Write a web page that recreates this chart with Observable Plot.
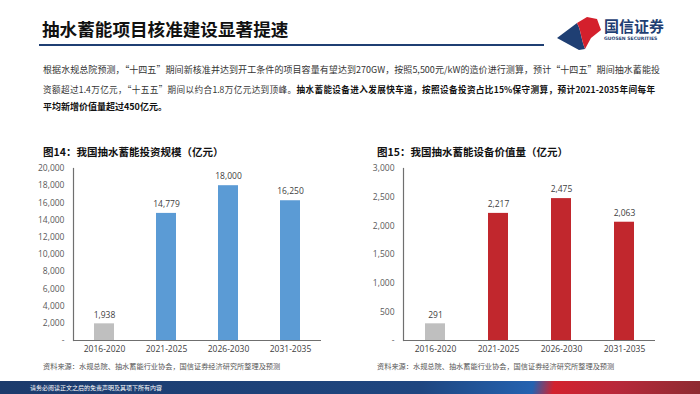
<!DOCTYPE html>
<html><head><meta charset="utf-8">
<script src="https://cdn.jsdelivr.net/npm/d3@7"></script>
<script src="https://cdn.jsdelivr.net/npm/@observablehq/plot@0.6"></script>
<style>
html,body{margin:0;padding:0;background:#fff;}
#page{position:relative;width:700px;height:394px;overflow:hidden;background:#fff;font-family:"Noto Sans CJK SC","Noto Sans",sans-serif;}
.abs{position:absolute;}
#title{left:42px;top:17px;font-size:17.6px;font-weight:bold;color:#111;line-height:24px;white-space:nowrap;}
#rule{left:39px;top:44px;width:505px;height:2px;background:#1f3f73;}
.para{position:absolute;left:43px;width:617px;font-size:9px;color:#333;line-height:12px;white-space:nowrap;}
.just{text-align:justify;text-align-last:justify;white-space:normal;}
.ctitle{font-size:10.5px;font-weight:bold;color:#111;line-height:14px;white-space:nowrap;}
.src{font-size:7.2px;color:#555;line-height:10px;white-space:nowrap;}
#footer{left:0;top:381px;width:700px;height:13px;background:linear-gradient(100deg,#1c3b6c 0%,#1f4680 60%,#2462b0 76%,#d3222e 79%,#b8283a 88%,#8d2b31 100%);}
#ftext{left:30px;top:382px;font-size:6px;color:#fff;line-height:11px;white-space:nowrap;}
</style></head>
<body><div id="page">
<div id="title" class="abs">抽水蓄能项目核准建设显著提速</div>
<div id="rule" class="abs"></div>
<svg class="abs" style="left:556px;top:15px" width="46" height="36" viewBox="0 0 46 36">
<path d="M1 23 L21 8 C25 15 25 24 29 34 L23 35 Z" fill="#1f3f73"/>
<path d="M21 8 L31 2 L41 4 L45 15 L35 23 L29 34 C25 24 25 15 21 8 Z" fill="#d4202c"/>
</svg>
<div class="abs" style="left:604px;top:17px;font-size:15px;color:#1f3f73;line-height:18px;font-weight:bold;white-space:nowrap;">国信证券</div>
<div class="abs" style="left:604px;top:36px;font-size:4.6px;color:#1f3f73;line-height:6px;font-weight:bold;font-family:'DejaVu Sans',sans-serif;white-space:nowrap;">GUOSEN SECURITIES</div>

<div class="para just" style="top:64px;">根据水规总院预测，“十四五”期间新核准并达到开工条件的项目容量有望达到270GW，按照5,500元/kW的造价进行测算，预计“十四五”期间抽水蓄能投</div>
<div class="para just" style="top:83px;width:612px;font-size:8.6px;">资额超过1.4万亿元，“十五五”期间以约合1.8万亿元达到顶峰。<b style="color:#111">抽水蓄能设备进入发展快车道，按照设备投资占比15%保守测算，预计2021-2035年间每年</b></div>
<div class="para" style="top:101px;"><b style="color:#111">平均新增价值量超过450亿元。</b></div>

<div class="abs ctitle" style="left:43px;top:145px;">图14：我国抽水蓄能投资规模（亿元）</div>
<div class="abs ctitle" style="left:377px;top:145px;">图15：我国抽水蓄能设备价值量（亿元）</div>
<div id="c1" class="abs" style="left:30px;top:158px;"></div>
<div id="c2" class="abs" style="left:360px;top:158px;"></div>
<div class="abs src" style="left:43px;top:361px;">资料来源：水规总院、抽水蓄能行业协会，国信证券经济研究所整理及预测</div>
<div class="abs src" style="left:377px;top:361px;">资料来源：水规总院、抽水蓄能行业协会，国信证券经济研究所整理及预测</div>
<div id="footer" class="abs"></div>
<div id="ftext" class="abs">请务必阅读正文之后的免责声明及其项下所有内容</div>
</div>
<script>
const periods = ["2016-2020", "2021-2025", "2026-2030", "2031-2035"];
const investment = [1938, 14779, 18000, 16250];
const equipment = [291, 2217, 2475, 2063];
const investTicks = [0, 2000, 4000, 6000, 8000, 10000, 12000, 14000, 16000, 18000, 20000];
const equipTicks = [0, 500, 1000, 1500, 2000, 2500, 3000];

const fmt = d3.format(",");
const tickFmt = d => d === 0 ? "-" : fmt(d);

function chart(values, ticks, color, marginRight) {
  const data = periods.map((p, i) => ({period: p, value: values[i]}));
  return Plot.plot({
    width: 300,
    height: 205,
    marginLeft: 43,
    marginRight: marginRight,
    marginTop: 10,
    marginBottom: 23,
    style: {fontFamily: "'Open Sans','Noto Sans',sans-serif", fontSize: "8.5px", color: "#595959", background: "transparent"},
    x: {domain: periods, paddingInner: 0.685, paddingOuter: 0.3425, label: null},
    y: {domain: [0, ticks[ticks.length - 1]], label: null},
    marks: [
      Plot.barY(data, {x: "period", y: "value", fill: (d, i) => i === 0 ? "#bfbfbf" : color}),
      Plot.text(data, {x: "period", y: "value", text: d => fmt(d.value), dy: -9, fill: "#404040", fontSize: 8.5}),
      Plot.axisX({tickSize: 0, tickPadding: 5, label: null, fill: "#404040"}),
      Plot.axisY({ticks: ticks, tickFormat: tickFmt, tickSize: 0, tickPadding: 9, label: null, fill: "#595959"}),
      Plot.ruleY([0], {stroke: "#6f6f6f", strokeWidth: 1.2}),
      Plot.frame({anchor: "left", stroke: "#6f6f6f", strokeWidth: 1.2})
    ]
  });
}
document.getElementById("c1").append(chart(investment, investTicks, "#5b9bd5", 9));
document.getElementById("c2").append(chart(equipment, equipTicks, "#c1272d", 5));
</script>
</body></html>
